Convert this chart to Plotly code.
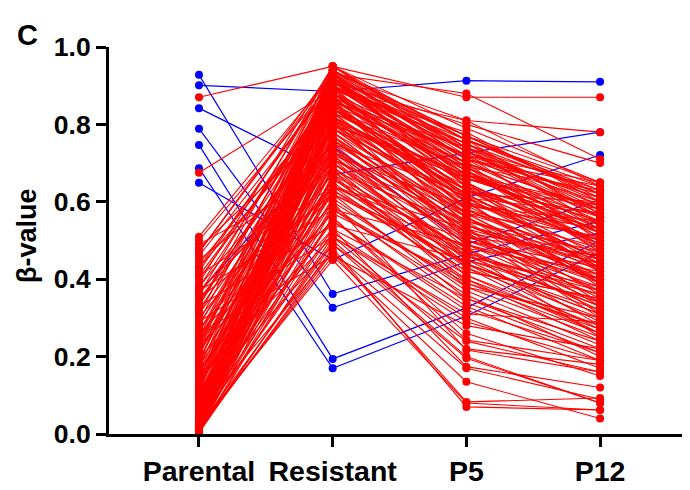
import plotly.graph_objects as go

categories = ["Parental", "Resistant", "P5", "P12"]
y_ticks = [0.0, 0.2, 0.4, 0.6, 0.8, 1.0]

# Red probes (hand-read estimates): beta-values at each stage
red_parental = [0.87, 0.675, 0.51, 0.50, 0.47, 0.44, 0.42, 0.40, 0.38, 0.36, 0.35, 0.33, 0.32, 0.30, 0.29,
                0.28, 0.27, 0.26, 0.25, 0.24, 0.23, 0.22, 0.21, 0.20, 0.195, 0.19, 0.18, 0.175, 0.17, 0.165,
                0.16, 0.155, 0.15, 0.145, 0.14, 0.135, 0.13, 0.125, 0.12, 0.115, 0.11, 0.105, 0.10, 0.098, 0.095,
                0.09, 0.088, 0.085, 0.08, 0.078, 0.075, 0.072, 0.07, 0.068, 0.065, 0.062, 0.06, 0.058, 0.055, 0.052,
                0.05, 0.048, 0.045, 0.042, 0.04, 0.038, 0.036, 0.034, 0.032, 0.03, 0.028, 0.026, 0.024, 0.022, 0.02,
                0.019, 0.018, 0.017, 0.016, 0.015, 0.014, 0.013, 0.012, 0.011, 0.01, 0.01, 0.009, 0.008, 0.008, 0.007,
                0.006, 0.006, 0.005, 0.005, 0.004, 0.003, 0.003, 0.002, 0.46, 0.43, 0.39, 0.37, 0.34, 0.31, 0.285,
                0.255, 0.235, 0.215, 0.185, 0.158, 0.128, 0.108, 0.082, 0.064, 0.044, 0.027, 0.014, 0.006, 0.48, 0.41,
                0.45, 0.49, 0.37, 0.33, 0.29, 0.26, 0.012, 0.02, 0.03, 0.04, 0.05, 0.47, 0.38, 0.22, 0.14,
                0.43, 0.41, 0.36, 0.31, 0.27, 0.24, 0.21, 0.18, 0.16, 0.13, 0.11, 0.09, 0.075, 0.06, 0.045,
                0.035, 0.025, 0.018, 0.012, 0.008, 0.005, 0.33, 0.25, 0.19, 0.12, 0.065, 0.028, 0.35, 0.23, 0.15]
red_resistant = [0.95, 0.89, 0.93, 0.91, 0.94, 0.86, 0.92, 0.88, 0.80, 0.93, 0.75, 0.90, 0.84, 0.71, 0.94,
                 0.86, 0.67, 0.91, 0.78, 0.62, 0.89, 0.82, 0.73, 0.93, 0.57, 0.85, 0.77, 0.69, 0.92, 0.60,
                 0.87, 0.81, 0.72, 0.53, 0.90, 0.83, 0.66, 0.94, 0.76, 0.58, 0.88, 0.80, 0.70, 0.49, 0.91,
                 0.84, 0.74, 0.63, 0.92, 0.86, 0.79, 0.68, 0.55, 0.93, 0.89, 0.82, 0.75, 0.65, 0.47, 0.90,
                 0.85, 0.78, 0.71, 0.61, 0.94, 0.87, 0.81, 0.73, 0.52, 0.91, 0.83, 0.76, 0.64, 0.45, 0.92,
                 0.88, 0.79, 0.70, 0.59, 0.46, 0.93, 0.86, 0.80, 0.72, 0.50, 0.90, 0.84, 0.77, 0.67, 0.48,
                 0.91, 0.85, 0.74, 0.56, 0.89, 0.82, 0.69, 0.51, 0.90, 0.83, 0.95, 0.70, 0.87, 0.92, 0.79,
                 0.64, 0.87, 0.76, 0.93, 0.68, 0.85, 0.62, 0.89, 0.77, 0.88, 0.66, 0.81, 0.94, 0.81, 0.64,
                 0.72, 0.68, 0.58, 0.54, 0.51, 0.46, 0.47, 0.49, 0.53, 0.56, 0.60, 0.93, 0.89, 0.95, 0.91,
                 0.91, 0.86, 0.82, 0.78, 0.74, 0.90, 0.84, 0.79, 0.71, 0.64, 0.93, 0.87, 0.80, 0.73, 0.66,
                 0.95, 0.88, 0.82, 0.75, 0.63, 0.58, 0.95, 0.92, 0.90, 0.86, 0.83, 0.80, 0.62, 0.55, 0.51]
red_p5 = [0.87, 0.81, 0.88, 0.80, 0.77, 0.74, 0.70, 0.72, 0.66, 0.64, 0.62, 0.58, 0.69, 0.55, 0.76,
          0.60, 0.48, 0.73, 0.52, 0.44, 0.67, 0.57, 0.50, 0.71, 0.40, 0.63, 0.54, 0.46, 0.75, 0.38,
          0.61, 0.59, 0.47, 0.35, 0.68, 0.56, 0.43, 0.74, 0.51, 0.36, 0.65, 0.53, 0.45, 0.24, 0.70,
          0.62, 0.49, 0.41, 0.66, 0.58, 0.55, 0.39, 0.33, 0.72, 0.60, 0.64, 0.48, 0.42, 0.17, 0.69,
          0.57, 0.52, 0.44, 0.37, 0.77, 0.63, 0.50, 0.46, 0.30, 0.67, 0.59, 0.53, 0.40, 0.08, 0.65,
          0.61, 0.56, 0.47, 0.34, 0.135, 0.73, 0.54, 0.58, 0.43, 0.20, 0.68, 0.62, 0.49, 0.38, 0.07,
          0.71, 0.60, 0.45, 0.26, 0.64, 0.51, 0.41, 0.22, 0.76, 0.66, 0.74, 0.51, 0.63, 0.69, 0.61,
          0.53, 0.72, 0.57, 0.68, 0.44, 0.70, 0.46, 0.75, 0.54, 0.66, 0.42, 0.63, 0.71, 0.67, 0.50,
          0.59, 0.54, 0.49, 0.45, 0.31, 0.28, 0.083, 0.196, 0.174, 0.243, 0.217, 0.81, 0.78, 0.76, 0.74,
          0.73, 0.68, 0.62, 0.57, 0.53, 0.71, 0.65, 0.60, 0.52, 0.47, 0.76, 0.70, 0.61, 0.55, 0.48,
          0.73, 0.67, 0.63, 0.56, 0.44, 0.39, 0.79, 0.77, 0.75, 0.72, 0.69, 0.67, 0.35, 0.32, 0.29]
red_p12 = [0.87, 0.78, 0.71, 0.70, 0.65, 0.63, 0.58, 0.61, 0.55, 0.50, 0.60, 0.44, 0.52, 0.47, 0.64,
           0.39, 0.42, 0.56, 0.35, 0.31, 0.59, 0.46, 0.38, 0.62, 0.27, 0.49, 0.43, 0.33, 0.57, 0.25,
           0.45, 0.53, 0.36, 0.22, 0.51, 0.41, 0.30, 0.60, 0.40, 0.20, 0.48, 0.37, 0.29, 0.16, 0.55,
           0.44, 0.34, 0.26, 0.58, 0.42, 0.45, 0.28, 0.19, 0.50, 0.47, 0.54, 0.32, 0.35, 0.09, 0.63,
           0.39, 0.46, 0.27, 0.23, 0.61, 0.52, 0.41, 0.38, 0.17, 0.56, 0.43, 0.31, 0.24, 0.062, 0.49,
           0.57, 0.36, 0.33, 0.21, 0.04, 0.59, 0.40, 0.48, 0.26, 0.08, 0.53, 0.45, 0.37, 0.30, 0.062,
           0.64, 0.50, 0.34, 0.15, 0.42, 0.39, 0.28, 0.18, 0.62, 0.59, 0.54, 0.46, 0.57, 0.48, 0.50,
           0.44, 0.65, 0.51, 0.47, 0.32, 0.58, 0.37, 0.62, 0.44, 0.55, 0.35, 0.53, 0.60, 0.52, 0.43,
           0.55, 0.41, 0.40, 0.36, 0.29, 0.22, 0.093, 0.08, 0.12, 0.19, 0.16, 0.64, 0.60, 0.63, 0.58,
           0.57, 0.49, 0.45, 0.40, 0.33, 0.53, 0.42, 0.38, 0.30, 0.25, 0.56, 0.47, 0.43, 0.34, 0.28,
           0.61, 0.51, 0.46, 0.39, 0.31, 0.26, 0.65, 0.62, 0.59, 0.56, 0.54, 0.52, 0.24, 0.21, 0.19]

# Blue probes (hand-read estimates)
blue_parental = [0.928, 0.901, 0.842, 0.789, 0.747, 0.687, 0.649, 0.367]
blue_resistant = [0.362, 0.885, 0.67, 0.326, 0.194, 0.170, 0.45, 0.745]
blue_p5 = [0.465, 0.913, 0.726, 0.445, 0.326, 0.305, 0.61, 0.49]
blue_p12 = [0.55, 0.910, 0.78, 0.52, 0.50, 0.47, 0.721, 0.605]

RED = "#FF0000"
BLUE = "#0000FF"


def build(series):
    xs, ys = [], []
    for row in zip(*series):
        for i, v in enumerate(row):
            xs.append(i)
            ys.append(v)
        xs.append(None)
        ys.append(None)
    return xs, ys


bx, by = build([blue_parental, blue_resistant, blue_p5, blue_p12])
rx, ry = build([red_parental, red_resistant, red_p5, red_p12])

fig = go.Figure()
fig.add_trace(go.Scatter(x=bx, y=by, mode="lines+markers", line=dict(color=BLUE, width=1.2),
                         marker=dict(color=BLUE, size=8),
                         hoverinfo="skip", showlegend=False, cliponaxis=False))
fig.add_trace(go.Scatter(x=rx, y=ry, mode="lines+markers", line=dict(color=RED, width=1.1),
                         marker=dict(color=RED, size=8), showlegend=False, cliponaxis=False))

font_family = "Liberation Sans, Arial, sans-serif"

# The page body adds an 8px offset; figure is sized to fit the 690x490 window.
fig.update_layout(
    width=682, height=482,
    margin=dict(l=101, r=1, t=39, b=56),
    plot_bgcolor="white", paper_bgcolor="white",
    font=dict(family=font_family, color="black"),
    xaxis=dict(
        range=[-0.673, 3.665], automargin=False,
        tickmode="array", tickvals=list(range(len(categories))),
        ticktext=["<b>%s</b>" % c for c in categories],
        tickfont=dict(size=28.5, family=font_family, color="black"),
        showline=True, linecolor="black", linewidth=3,
        ticks="outside", ticklen=10, tickwidth=3, tickcolor="black",
        showgrid=False, zeroline=False,
    ),
    yaxis=dict(
        range=[0, 1.0], automargin=False,
        tickmode="array", tickvals=y_ticks,
        ticktext=["<b>%.1f</b>" % t for t in y_ticks],
        tickfont=dict(size=26.5, family=font_family, color="black"),
        showline=True, linecolor="black", linewidth=3,
        ticks="outside", ticklen=10, tickwidth=3, tickcolor="black",
        showgrid=False, zeroline=False,
    ),
    annotations=[
        dict(text="<b>β-value</b>", x=-0.1414, y=0.514, xref="paper", yref="paper",
             textangle=-90, showarrow=False, font=dict(size=27, family=font_family, color="black"),
             xanchor="center", yanchor="middle"),
        dict(text="<b>C</b>", x=-0.1397, y=1.031, xref="paper", yref="paper",
             showarrow=False, font=dict(size=29, family=font_family, color="black"),
             xanchor="center", yanchor="middle"),
    ],
)

fig.write_html("out.html")
